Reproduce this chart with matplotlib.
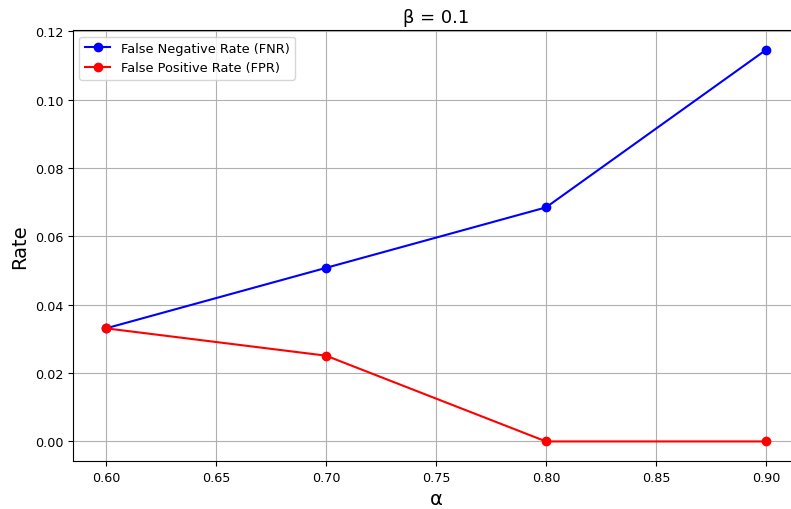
import matplotlib
matplotlib.use("Agg")
import matplotlib.pyplot as plt

alpha = [0.6, 0.7, 0.8, 0.9]
fnr = [0.0331, 0.0508, 0.0685, 0.1146]
fpr = [0.0331, 0.0251, 0.0, 0.0]

fig = plt.figure(figsize=(7.91, 5.10), dpi=100)
ax = fig.add_axes([0.0923, 0.0941, 0.9178, 0.8445])
ax.plot(alpha, fnr, '-o', color='blue', label='False Negative Rate (FNR)', markersize=6)
ax.plot(alpha, fpr, '-o', color='red', label='False Positive Rate (FPR)', markersize=6)
ax.set_xticks([0.60, 0.65, 0.70, 0.75, 0.80, 0.85, 0.90])
ax.set_xticklabels(['0.60', '0.65', '0.70', '0.75', '0.80', '0.85', '0.90'])
ax.set_yticks([0.0, 0.02, 0.04, 0.06, 0.08, 0.10, 0.12])
ax.set_yticklabels(['0.00', '0.02', '0.04', '0.06', '0.08', '0.10', '0.12'])
ax.tick_params(labelsize=9.2)
ax.set_title('β = 0.1', fontsize=13)
ax.set_xlabel('α', fontsize=14)
ax.set_ylabel('Rate', fontsize=14)
ax.grid(True)
ax.legend(loc='upper left', fontsize=9.3)
fig.savefig('out.png', dpi=100)
